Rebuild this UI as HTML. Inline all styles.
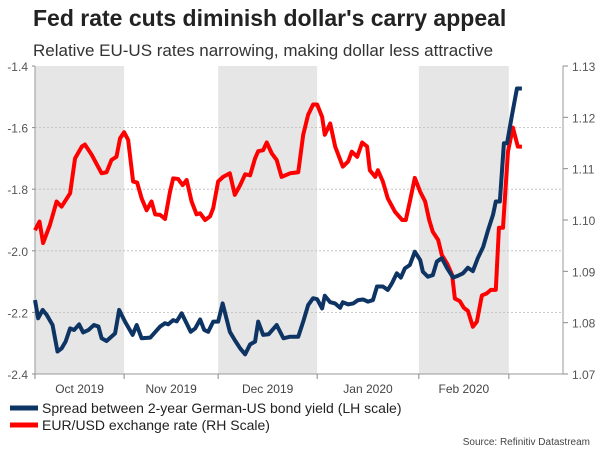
<!DOCTYPE html>
<html><head><meta charset="utf-8"><style>
body{margin:0;background:#fff;font-family:"Liberation Sans",sans-serif}
svg text{font-family:"Liberation Sans",sans-serif}
</style></head><body>
<svg id="c" width="600" height="450" xmlns="http://www.w3.org/2000/svg">
<text x="33" y="26" font-size="23" font-weight="bold" fill="#222">Fed rate cuts diminish dollar's carry appeal</text>
<text x="33" y="56" font-size="17" fill="#333">Relative EU-US rates narrowing, making dollar less attractive</text>
<g id="plot"></g>
<g>
<line x1="10" y1="408" x2="38" y2="408" stroke="#0d3463" stroke-width="5"/>
<text x="42" y="413" font-size="14" fill="#222">Spread between 2-year German-US bond yield (LH scale)</text>
<line x1="10" y1="425" x2="38" y2="425" stroke="#ff0000" stroke-width="5"/>
<text x="42" y="430" font-size="14" fill="#222">EUR/USD exchange rate (RH Scale)</text>
</g>
<text x="590" y="445" font-size="10" fill="#444" text-anchor="end">Source: Refinitiv Datastream</text>
</svg>
<script>
const monthLabels=["Oct 2019","Nov 2019","Dec 2019","Jan 2020","Feb 2020"];
const monthStarts=[0,19.8,40.7,62.7,85.3,105.3];
const leftTicks=[-1.4,-1.6,-1.8,-2.0,-2.2,-2.4];
const rightTicks=[1.13,1.12,1.11,1.10,1.09,1.08,1.07];
const spreadX=[0,0.7,1.7,2.6,3.9,5,5.9,6.8,7.8,8.7,9.8,10.7,11.9,13.1,14.1,14.8,15.9,17.8,18.7,20,21.7,22.6,23.7,25.6,27.8,28.9,29.6,30.7,31.5,32.6,34.6,35.6,36.7,37.6,38.5,39.6,40.7,41.7,43.3,44.4,45.6,46.7,47.8,48.9,49.6,50.7,51.9,53.7,55.2,56.7,58.5,
59.6,60.7,61.8,62.7,63.8,64.4,65.6,66.7,67.8,68.4,69.6,70.7,71.8,72.9,74,75.1,76,77.3,78.4,79.3,80.4,81.3,82.2,83.3,84.4,85.6,86.2,87.3,88.4,89.3,90.4,91.6,92.9,94,95.1,96.2,97.3,98.4,99.6,100.7,101.8,102.4,103.3,104.2,104.9,106,107.1,108.2];
const spreadY=[-2.160,-2.219,-2.192,-2.208,-2.241,-2.327,-2.317,-2.295,-2.252,-2.257,-2.239,-2.265,-2.257,-2.241,-2.246,-2.284,-2.293,-2.268,-2.192,-2.230,-2.273,-2.241,-2.284,-2.282,-2.246,-2.235,-2.239,-2.225,-2.229,-2.203,-2.263,-2.252,-2.223,-2.257,-2.263,-2.230,-2.230,-2.171,-2.263,-2.290,-2.317,-2.336,-2.304,-2.295,-2.230,-2.273,-2.271,-2.241,-2.284,-2.279,-2.279,
-2.230,-2.176,-2.154,-2.157,-2.187,-2.146,-2.167,-2.171,-2.185,-2.167,-2.174,-2.171,-2.160,-2.158,-2.165,-2.160,-2.116,-2.116,-2.127,-2.106,-2.073,-2.087,-2.057,-2.046,-2.003,-2.030,-2.068,-2.084,-2.079,-2.035,-2.024,-2.057,-2.087,-2.081,-2.073,-2.055,-2.066,-2.024,-1.987,-1.932,-1.882,-1.840,-1.840,-1.651,-1.651,-1.559,-1.473,-1.473];
const fxX=[0,1,1.8,3.3,4.8,5.9,7.8,8.9,10.4,11.1,12.6,14.8,15.9,17,18.1,18.9,19.8,20.7,21.8,22.7,23.7,24.8,25.9,26.7,27.8,28.9,30,30.7,31.8,32.8,33.7,34.8,35.9,36.7,37.8,38.9,39.6,40.7,41.8,43.3,44.4,45.6,46.7,47.8,48.9,49.6,50.7,51.5,52.6,53.7,54.8,56.7,58.5,
59.6,60.7,61.8,62.7,63.8,64.4,65.6,66.7,68.4,69.6,70.4,71.6,72.7,73.8,74.4,75.6,76.2,77.3,78.4,80,81.6,82.4,83.3,84.4,85.6,86.7,87.6,88.4,89.6,90.4,91.6,92.7,93.3,94.4,95.3,96.2,97.3,98.2,99.3,100.4,101.3,102.4,103.1,104,105.1,106.2,107.3,108.2];
const fxY=[1.0980,1.0997,1.0955,1.0990,1.1036,1.1026,1.1052,1.1120,1.1143,1.1147,1.1127,1.1091,1.1093,1.1117,1.1123,1.1159,1.1171,1.1156,1.1075,1.1073,1.1042,1.1019,1.1036,1.1011,1.1010,1.1002,1.1055,1.1081,1.1080,1.1068,1.1078,1.1036,1.1011,1.1013,1.1000,1.1007,1.1023,1.1075,1.1084,1.1091,1.1049,1.1068,1.1089,1.1087,1.1120,1.1134,1.1136,1.1151,1.1130,1.1117,1.1084,1.1091,1.1093,
1.1166,1.1205,1.1225,1.1225,1.1201,1.1166,1.1188,1.1143,1.1104,1.1114,1.1133,1.1123,1.1151,1.1143,1.1097,1.1084,1.1097,1.1075,1.1042,1.1016,1.1000,1.1000,1.1036,1.1082,1.1055,1.1036,1.1000,1.0977,1.0961,1.0932,1.0915,1.0893,1.0847,1.0842,1.0829,1.0823,1.0792,1.0802,1.0853,1.0857,1.0864,1.0864,1.0985,1.0985,1.1133,1.1180,1.1143,1.1143];

const L=35,R=563,T=66,B=374;
const xs=d=>L+d*4.5;
const yl=v=>T+(-1.4-v)/1.0*(B-T);
const yr=v=>T+(1.13-v)/0.06*(B-T);
const NS="http://www.w3.org/2000/svg";
const g=document.getElementById('plot');
function mk(t,a){const e=document.createElementNS(NS,t);for(const k in a)e.setAttribute(k,a[k]);g.appendChild(e);return e;}
for(let i=0;i<monthLabels.length;i+=2){
  const r=mk('rect',{x:xs(monthStarts[i]),y:T,width:xs(monthStarts[i+1])-xs(monthStarts[i]),height:B-T,fill:'#e6e6e6'});
  
  
}
leftTicks.forEach(v=>{
  const y=yl(v);
  if(v>-2.4&&v<-1.4){const l=mk('line',{x1:L,x2:R,y1:y,y2:y,stroke:'#bbb','stroke-dasharray':'2,2','stroke-width':0.8});
  
  }
  const t=mk('text',{x:28,y:y+5,'font-size':12,fill:'#555','text-anchor':'end'});t.textContent=v.toFixed(1);
  
  
  mk('line',{x1:L-3,x2:L,y1:y,y2:y,stroke:'#888'});
});
rightTicks.forEach(v=>{
  const y=yr(v);
  mk('line',{x1:R,x2:R+5,y1:y,y2:y,stroke:'#888'});
  const t=mk('text',{x:R+9,y:y+5,'font-size':12,fill:'#555'});t.textContent=v.toFixed(2);
  
  
});
mk('line',{x1:L,x2:L,y1:T,y2:B,stroke:'#999'});
mk('line',{x1:R,x2:R,y1:T,y2:B,stroke:'#999'});
mk('line',{x1:L,x2:R,y1:B,y2:B,stroke:'#999'});
monthStarts.forEach(d=>mk('line',{x1:xs(d),x2:xs(d),y1:B,y2:B+5,stroke:'#888'}));
monthLabels.forEach((m,i)=>{
  const t=mk('text',{x:(xs(monthStarts[i])+xs(monthStarts[i+1]))/2,y:B+19,'font-size':12,fill:'#444','text-anchor':'middle'});
  t.textContent=m;
  
  
});
const p1=mk('polyline',{points:fxX.map((d,i)=>xs(d)+','+yr(fxY[i])).join(' '),fill:'none',stroke:'#ff0000','stroke-width':4,'stroke-linejoin':'round'});


const p2=mk('polyline',{points:spreadX.map((d,i)=>xs(d)+','+yl(spreadY[i])).join(' '),fill:'none',stroke:'#0d3463','stroke-width':4,'stroke-linejoin':'round'});


</script>
</body></html>
